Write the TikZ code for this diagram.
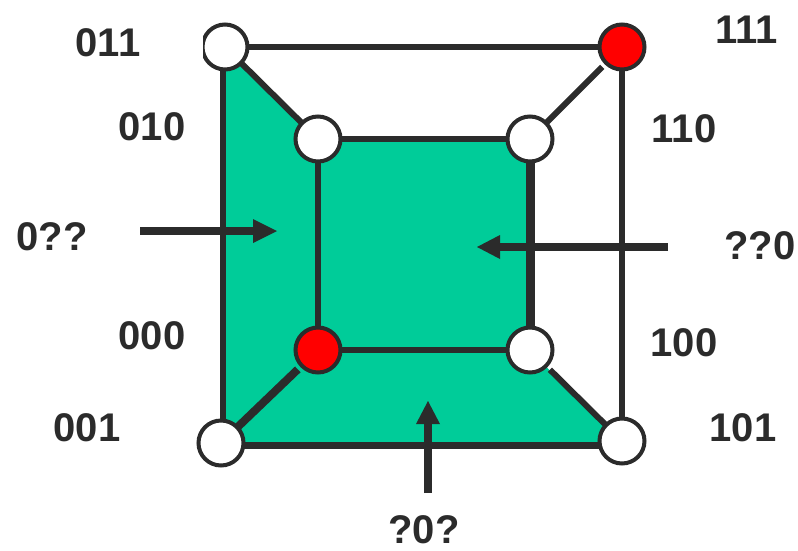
\documentclass[tikz,border=0pt]{standalone}
\usepackage{fontspec}
\setmainfont{Liberation Sans}
\definecolor{ink}{HTML}{2B2B2B}
\definecolor{face}{HTML}{00CC99}
\tikzset{
  x=1pt,y=-1pt,
  vertexw/.style={circle,draw=ink,line width=4pt,fill=white,minimum size=45pt,inner sep=0pt},
  vertexr/.style={vertexw,fill=red},
  edgeline/.style={draw=ink,line width=6pt},
  lab/.style={text=ink,font=\fontsize{40}{40}\selectfont\bfseries,inner sep=0pt},
  pointer/.style={draw=ink,line width=8pt},
  headtip/.style={fill=ink,draw=none}
}
\begin{document}
\begin{tikzpicture}
\useasboundingbox (0,0) rectangle (798,550);
\coordinate (p011) at (225,47);
\coordinate (p111) at (622,47);
\coordinate (p010) at (318,139);
\coordinate (p110) at (530,139);
\coordinate (p000) at (318,350);
\coordinate (p100) at (530,350);
\coordinate (p001) at (221,443);
\coordinate (p101) at (622,441);
\coordinate (c1) at (223,47);
\coordinate (c2) at (223,445);
\coordinate (c3) at (622,445);
\fill[face] (c1) -- (p010) -- (p110) -- (p100) -- (c3) -- (c2) -- cycle;
\draw[edgeline] (p011) -- (p111);
\draw[edgeline] (p011) -- (p010);
\draw[edgeline,shorten <=28pt] (p111) -- (p110);
\draw[edgeline] (p010) -- (p110);
\draw[edgeline] (p010) -- (p000);
\draw[edgeline,line width=9pt] (p110) -- (p100);
\draw[edgeline,line width=5.5pt] (p000) -- (p100);
\draw[edgeline,line width=8pt,shorten <=28pt] (p000) -- (p001);
\draw[edgeline,shorten <=28pt] (p100) -- (p101);
\draw[edgeline,line width=7pt] (c2) -- (c3);
\draw[edgeline] (c1) -- (c2);
\draw[edgeline] (p111) -- (p101);
\node[vertexw] (n011) at (p011) {};
\node[vertexr] (n111) at (p111) {};
\node[vertexw] (n010) at (p010) {};
\node[vertexw] (n110) at (p110) {};
\node[vertexr] (n000) at (p000) {};
\node[vertexw] (n100) at (p100) {};
\node[vertexw] (n001) at (p001) {};
\node[vertexw] (n101) at (p101) {};
\fill[white] (198,20) rectangle (203,75);
\node[lab] (t011) at (108,43) {011};
\node[lab] (t111) at (747,30) {111};
\node[lab] (t010) at (152,127) {010};
\node[lab] (t110) at (684,129) {110};
\node[lab] (t000) at (152,336) {000};
\node[lab] (t100) at (684,343) {100};
\node[lab] (t001) at (87,428) {001};
\node[lab] (t101) at (743,428) {101};
\node[lab] (t0qq) at (52,237) {0??};
\node[lab] (tqq0) at (760,246) {??0};
\node[lab] (tq0q) at (424,530) {?0?};
\coordinate (a1s) at (140,231);
\coordinate (a1e) at (255,231);
\coordinate (a2s) at (668,247);
\coordinate (a2e) at (498,247);
\coordinate (a3s) at (428,493);
\coordinate (a3e) at (428,422);
\draw[pointer] (a1s) -- (a1e);
\fill[headtip] (277,231) -- (253,219) -- (253,243) -- cycle;
\draw[pointer] (a2s) -- (a2e);
\fill[headtip] (477,247) -- (500,235) -- (500,259) -- cycle;
\draw[pointer] (a3s) -- (a3e);
\fill[headtip] (428,401) -- (416,424) -- (440,424) -- cycle;
\end{tikzpicture}
\end{document}
